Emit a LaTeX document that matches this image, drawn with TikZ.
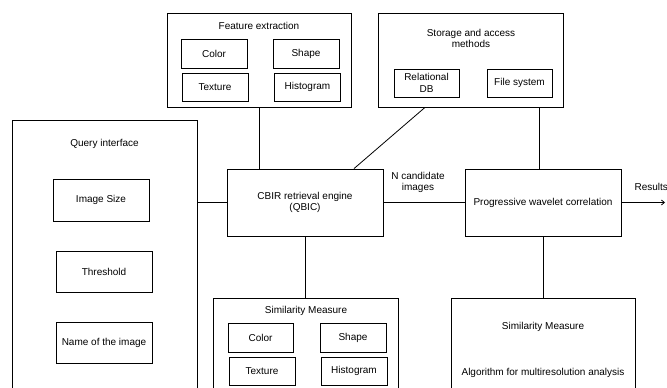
\documentclass[tikz,border=0pt]{standalone}
\usepackage{fontspec}
\setmainfont{Liberation Sans}
\usetikzlibrary{arrows.meta}
\begin{document}
\begin{tikzpicture}[x=1pt, y=1pt,
        every node/.style={font=\fontsize{10}{11.5}\selectfont, align=center},
        outerbox/.style={draw, line width=0.8pt, inner sep=0pt},
        itembox/.style={draw, line width=0.8pt, inner sep=0pt, minimum width=66pt, minimum height=29pt},
        querybox/.style={draw, line width=0.8pt, inner sep=0pt, minimum width=96pt, minimum height=42pt},
        link/.style={line width=0.8pt}]
            \useasboundingbox (0, 0) rectangle (667, -388);
            \clip (0, 0) rectangle (667, -388);
            % feature extraction
            \node[outerbox, minimum width=184pt, minimum height=94pt] (fe) at (259, -60) {};
            \node (fetitle) at (259, -26) {Feature extraction};
            \node[itembox] (fcolor) at (214, -53.5) {Color};
            \node[itembox] (fshape) at (306, -53.5) {Shape};
            \node[itembox, minimum height=28pt] (ftexture) at (215, -87) {Texture};
            \node[itembox, minimum height=28pt] (fhisto) at (307.5, -87) {Histogram};
            % storage
            \node[outerbox, minimum width=185pt, minimum height=94pt] (st) at (470.5, -60) {};
            \node (sttitle) at (471, -38.5) {Storage and access\\methods};
            \node[itembox, minimum width=65pt, minimum height=28pt] (reldb) at (426.5, -83) {Relational\\DB};
            \node[itembox, minimum width=65pt, minimum height=28pt] (files) at (519.5, -83) {File system};
            % query interface
            \node[outerbox, minimum width=185pt, minimum height=280pt] (qi) at (104.5, -260) {};
            \node (qititle) at (104.5, -144) {Query interface};
            \node[querybox] (imgsize) at (101, -200) {Image Size};
            \node[querybox, minimum height=41pt] (thresh) at (104, -271.5) {Threshold};
            \node[querybox, minimum height=41pt] (imgname) at (104, -342.5) {Name of the image};
            % engines
            \node[outerbox, minimum width=156pt, minimum height=67pt] (cbir) at (305, -202.5) {CBIR retrieval engine\\(QBIC)};
            \node[outerbox, minimum width=156pt, minimum height=67pt] (prog) at (543, -202.5) {Progressive wavelet correlation};
            % similarity measure (left)
            \node[outerbox, minimum width=185pt, minimum height=102pt] (sm) at (305.5, -349) {};
            \node (smtitle) at (306, -311) {Similarity Measure};
            \node[itembox, minimum width=65pt] (scolor) at (260.5, -337.5) {Color};
            \node[itembox] (sshape) at (353, -337.5) {Shape};
            \node[itembox, minimum height=28pt] (stexture) at (262, -371) {Texture};
            \node[itembox, minimum height=28pt] (shisto) at (354, -371) {Histogram};
            % similarity measure (right)
            \node[outerbox, minimum width=184pt, minimum height=102pt] (msr) at (543, -349) {};
            \node (msrtitle) at (543, -327) {Similarity Measure};
            \node (msralgo) at (543, -373) {Algorithm for multiresolution analysis};
            \coordinate (results) at (665, -202.5);
            % connectors
            \draw[link] (fe.south) -- (fe.south |- cbir.north);
            \draw[link] (cbir.west -| qi.east) -- (cbir.west);
            \draw[link] ([xshift=-45.5pt]st.south) -- ([xshift=49pt]cbir.north);
            \draw[link] ([xshift=-4pt]prog.north) -- ([xshift=-4pt]prog.north |- st.south);
            \draw[link] (cbir.south) -- (cbir.south |- sm.north);
            \draw[link] (cbir.east) to node[above=6pt, xshift=-6pt] {N candidate\\images} (prog.west);
            \draw[link, -{Straight Barb[length=3pt, width=5pt]}] (prog.east) to node[above=8pt, xshift=8pt] {Results} (results);
            \draw[link] (prog.south) -- (prog.south |- msr.north);
        \end{tikzpicture}
\end{document}
